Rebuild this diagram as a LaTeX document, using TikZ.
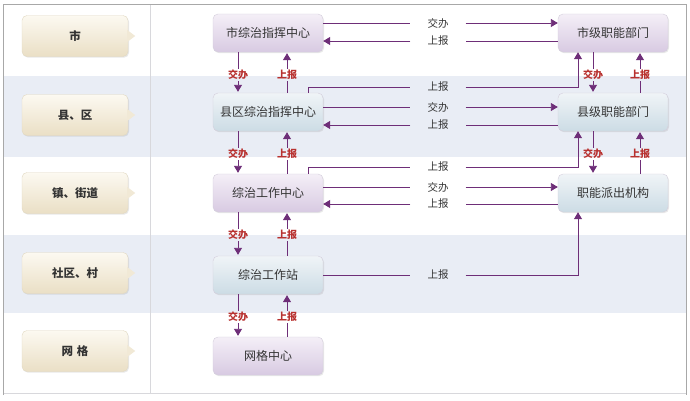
\documentclass[tikz,border=0pt]{standalone}
\usepackage{fontspec}
\newfontfamily\cjk{Noto Sans CJK SC}
\usetikzlibrary{arrows.meta,shadows}
\definecolor{rowbg}{HTML}{E9EDF5}
\definecolor{framec}{HTML}{A8A8A8}
\definecolor{gridc}{HTML}{D8D8DC}
\definecolor{lnc}{HTML}{6E2E78}
\definecolor{txt}{HTML}{333333}
\definecolor{redc}{HTML}{B8312F}
\definecolor{pTop}{HTML}{F4EFF7}
\definecolor{pBot}{HTML}{D8CAE2}
\definecolor{bTop}{HTML}{F0F4F7}
\definecolor{bBot}{HTML}{CCDCE5}
\definecolor{lTop}{HTML}{FCF9F1}
\definecolor{lBot}{HTML}{EADFC5}
\definecolor{lPt}{HTML}{F1E9D6}
\definecolor{boxline}{HTML}{D4CEDC}
\definecolor{lline}{HTML}{E2D9C2}
\tikzset{
  conn/.style={draw=lnc, line width=0.9pt},
  arr/.style={conn, -{Triangle[width=8pt,length=7pt]}},
  box/.style={rounded corners=5pt, minimum width=110pt, minimum height=38pt,
    draw=boxline, line width=0.4pt, font=\cjk\fontsize{12}{14}\selectfont, text=txt,
    drop shadow={opacity=0.18, shadow xshift=1pt, shadow yshift=-1.2pt}},
  pbox/.style={box, top color=pTop, bottom color=pBot},
  bbox/.style={box, top color=bTop, bottom color=bBot},
  lbox/.style={box, minimum width=106pt, minimum height=41pt, top color=lTop,
    bottom color=lBot, draw=lline, font=\cjk\bfseries\fontsize{11.5}{14}\selectfont},
  hlab/.style={font=\cjk\fontsize{10.5}{12}\selectfont, text=txt, minimum width=55pt,
    inner sep=0pt, minimum height=10pt},
  vlab/.style={font=\cjk\bfseries\fontsize{10}{12}\selectfont, text=redc, inner sep=1.2pt}
}
\begin{document}
\begin{tikzpicture}[x=1pt,y=-1pt]
\useasboundingbox (0,0) rectangle (690,400);
\fill[white] (0,0) rectangle (690,400);
% row bands
\fill[rowbg] (3,76) rectangle (686,157);
\fill[rowbg] (3,235) rectangle (686,313);
\draw[gridc, line width=0.5pt] (150,4) -- (150,393);
\draw[gridc, line width=0.6pt] (3,393) -- (686,393);
\draw[framec, line width=1pt] (3,395) -- (3,4) -- (686,4) -- (686,395);

% left labels
\node[lbox] (l1) at (75,36) {市};
\node[lbox] (l2) at (75,115) {县、区};
\node[lbox] (l3) at (75,193) {镇、街道};
\node[lbox] (l4) at (75,273) {社区、村};
\node[lbox] (l5) at (75,351) {网\,\,格};
\foreach \n in {l1,l2,l3,l4,l5}{
  \fill[lPt] ([yshift=6pt,xshift=-1pt]\n.east) -- ([xshift=7pt]\n.east) -- ([yshift=-6pt,xshift=-1pt]\n.east) -- cycle;
}

% middle column
\node[pbox] (m1) at (268,33) {市综治指挥中心};
\node[bbox] (m2) at (268,112) {县区综治指挥中心};
\node[pbox] (m3) at (268,193) {综治工作中心};
\node[bbox] (m4) at (268,275) {综治工作站};
\node[pbox] (m5) at (268,356) {网格中心};

% right column
\node[pbox] (r1) at (613,33) {市级职能部门};
\node[bbox] (r2) at (613,112) {县级职能部门};
\node[bbox] (r3) at (613,193) {职能派出机构};

% vertical labels middle
\node[vlab] (a1d) at (238,75) {交办};
\node[vlab] (a1u) at (287,75) {上报};
\node[vlab] (a2d) at (238,154) {交办};
\node[vlab] (a2u) at (287,154) {上报};
\node[vlab] (a3d) at (238,235) {交办};
\node[vlab] (a3u) at (287,235) {上报};
\node[vlab] (a4d) at (238,317) {交办};
\node[vlab] (a4u) at (287,317) {上报};
% vertical labels right
\node[vlab] (b1d) at (593,75) {交办};
\node[vlab] (b1u) at (640,75) {上报};
\node[vlab] (b2d) at (593,154) {交办};
\node[vlab] (b2u) at (640,154) {上报};

% middle vertical connectors
\draw[conn] ([xshift=-30pt]m1.south) -- (a1d.north);
\draw[arr] (a1d.south) -- ([xshift=-30pt,yshift=1pt]m2.north);
\draw[conn] ([xshift=19pt]m2.north) -- (a1u.south);
\draw[arr] (a1u.north) -- ([xshift=19pt,yshift=-1pt]m1.south);

\draw[conn] ([xshift=-30pt]m2.south) -- (a2d.north);
\draw[arr] (a2d.south) -- ([xshift=-30pt,yshift=1pt]m3.north);
\draw[conn] ([xshift=19pt]m3.north) -- (a2u.south);
\draw[arr] (a2u.north) -- ([xshift=19pt,yshift=-1pt]m2.south);

\draw[conn] ([xshift=-30pt]m3.south) -- (a3d.north);
\draw[arr] (a3d.south) -- ([xshift=-30pt,yshift=1pt]m4.north);
\draw[conn] ([xshift=19pt]m4.north) -- (a3u.south);
\draw[arr] (a3u.north) -- ([xshift=19pt,yshift=-1pt]m3.south);

\draw[conn] ([xshift=-30pt]m4.south) -- (a4d.north);
\draw[arr] (a4d.south) -- ([xshift=-30pt,yshift=1pt]m5.north);
\draw[conn] ([xshift=19pt]m5.north) -- (a4u.south);
\draw[arr] (a4u.north) -- ([xshift=19pt,yshift=-1pt]m4.south);

% right vertical connectors
\draw[conn] ([xshift=-20pt]r1.south) -- (b1d.north);
\draw[arr] (b1d.south) -- ([xshift=-20pt,yshift=1pt]r2.north);
\draw[conn] ([xshift=27pt]r2.north) -- (b1u.south);
\draw[arr] (b1u.north) -- ([xshift=27pt,yshift=-1pt]r1.south);

\draw[conn] ([xshift=-20pt]r2.south) -- (b2d.north);
\draw[arr] (b2d.south) -- ([xshift=-20pt,yshift=1pt]r3.north);
\draw[conn] ([xshift=27pt]r3.north) -- (b2u.south);
\draw[arr] (b2u.north) -- ([xshift=27pt,yshift=-1pt]r2.south);

% horizontal labels
\node[hlab] (h1a) at (438,23) {交办};
\node[hlab] (h1b) at (438,41) {上报};
\node[hlab] (h2a) at (438,87) {上报};
\node[hlab] (h2b) at (438,107) {交办};
\node[hlab] (h2c) at (438,125) {上报};
\node[hlab] (h3a) at (438,167) {上报};
\node[hlab] (h3b) at (438,187) {交办};
\node[hlab] (h3c) at (438,204) {上报};
\node[hlab] (h4) at (438,275) {上报};

% row 1
\draw[conn] ([yshift=10pt]m1.east) -- (h1a.west);
\draw[arr] (h1a.east) -- ([yshift=10pt]r1.west);
\draw[conn] ([yshift=-8pt]r1.west) -- (h1b.east);
\draw[arr] (h1b.west) -- ([yshift=-8pt]m1.east);
% row 2
\draw[conn] ([xshift=40pt]m2.north) |- (h2a.west);
\draw[arr] (h2a.east) -| ([xshift=-35pt]r1.south);
\draw[conn] ([yshift=5pt]m2.east) -- (h2b.west);
\draw[arr] (h2b.east) -- ([yshift=5pt]r2.west);
\draw[conn] ([yshift=-13pt]r2.west) -- (h2c.east);
\draw[arr] (h2c.west) -- ([yshift=-13pt]m2.east);
% row 3
\draw[conn] ([xshift=40pt]m3.north) |- (h3a.west);
\draw[arr] (h3a.east) -| ([xshift=-35pt]r2.south);
\draw[conn] ([yshift=6pt]m3.east) -- (h3b.west);
\draw[arr] (h3b.east) -- ([yshift=6pt]r3.west);
\draw[conn] ([yshift=-11pt]r3.west) -- (h3c.east);
\draw[arr] (h3c.west) -- ([yshift=-11pt]m3.east);
% row 4
\draw[conn] (m4.east) -- (h4.west);
\draw[arr] (h4.east) -| ([xshift=-35pt]r3.south);
\end{tikzpicture}
\end{document}
